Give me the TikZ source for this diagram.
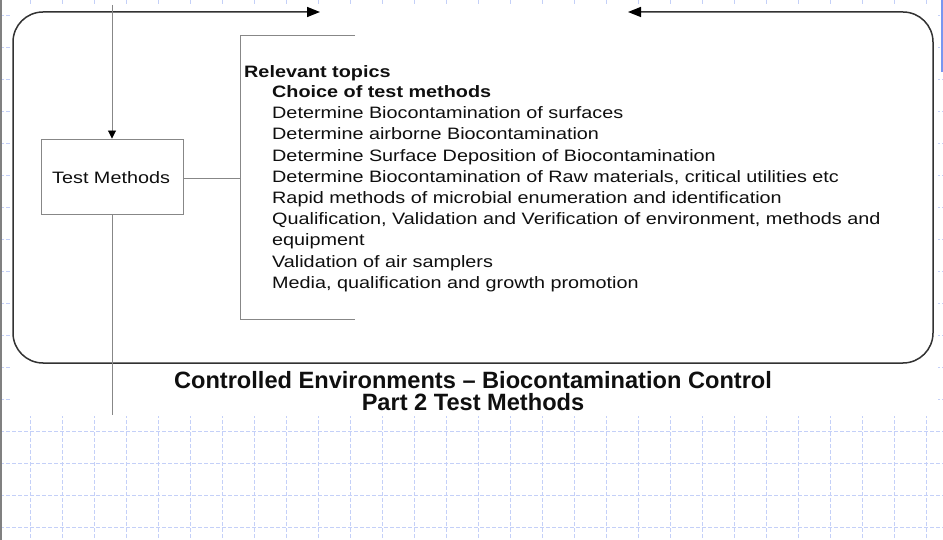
\documentclass[tikz,border=0pt]{standalone}
\usepackage{fontspec}
\setmainfont{Liberation Sans}
\newfontfamily\bodyf[FakeStretch=1.2]{Liberation Sans}
\usetikzlibrary{arrows.meta}
\definecolor{gridblue}{RGB}{196,208,248}
\definecolor{barblue}{RGB}{120,150,240}
\definecolor{framegray}{RGB}{50,50,50}
\definecolor{linegray}{RGB}{135,135,135}
\definecolor{inkc}{RGB}{15,15,15}
\tikzset{
  gridline/.style={draw=gridblue, line width=0.7pt, dash pattern=on 4pt off 2pt},
  frameline/.style={draw=framegray, line width=1.5pt, rounded corners=30pt},
  thinline/.style={draw=linegray, line width=0.9pt},
  boxnode/.style={draw=linegray, line width=0.9pt, minimum width=142pt, minimum height=75pt, inner sep=0pt},
  bodytext/.style={anchor=base west, inner sep=0pt, font=\bodyf\fontsize{16.5}{19}\selectfont, text=inkc},
  boldtext/.style={bodytext, font=\bodyf\bfseries\fontsize{16.5}{19}\selectfont},
  titletext/.style={anchor=base, inner sep=0pt, font=\bfseries\fontsize{23.6}{26}\selectfont, text=inkc}
}
\begin{document}
\begin{tikzpicture}[x=1pt,y=-1pt]
\useasboundingbox (0,0) rectangle (943,540);
\fill[white] (0,0) rectangle (943,540);
% grid
\foreach \x in {30,62,...,926} \draw[gridline] (\x,0) -- (\x,540);
\foreach \y in {15,47,...,527} \draw[gridline] (0,\y) -- (943,\y);
\fill[white] (12,6) rectangle (938,416);
% edge marks
\fill[barblue] (940.5,0) rectangle (943,72);
\draw[draw=gray, line width=1.6pt] (0.8,0) -- (0.8,540);

% frame with the two arrows on top
\coordinate (fa) at (628,12);
\coordinate (fb) at (320,12);
\draw[frameline, {Triangle[length=13pt,width=10pt,color=black]}-{Triangle[length=13pt,width=10pt,color=black]}]
  (fa) -- (933,12) -- (933,363) -- (13,363) -- (13,12) -- (fb);

% test methods box
\node[boxnode] (tm) at (112,176.5) {};
\node[bodytext] (tmt) at (52,184) {Test Methods};
\coordinate (top) at (112,5);
\coordinate (bot) at (112,415);
\draw[thinline, -{Triangle[length=8pt,width=8pt,color=black]}] (top) -- (tm.north);
\draw[thinline] (tm.south) -- (bot);

% bracket
\coordinate (bt) at (355,35);
\coordinate (bm) at (240,178);
\coordinate (bb) at (355,319);
\draw[thinline] (tm.east |- bm) -- (bm);
\draw[thinline] (bt) -- (240,35) -- (240,319) -- (bb);

% topics text
\node[boldtext] (l1) at (244,77.5) {Relevant topics};
\node[boldtext] (l2) at (272,98) {Choice of test methods};
\node[bodytext] (l3) at (272,119) {Determine Biocontamination of surfaces};
\node[bodytext] (l4) at (272,140) {Determine airborne Biocontamination};
\node[bodytext] (l5) at (272,161.2) {Determine Surface Deposition of Biocontamination};
\node[bodytext] (l6) at (272,182.4) {Determine Biocontamination of Raw materials, critical utilities etc};
\node[bodytext] (l7) at (272,203.6) {Rapid methods of microbial enumeration and identification};
\node[bodytext] (l8) at (272,224.8) {Qualification, Validation and Verification of environment, methods and};
\node[bodytext] (l9) at (272,246) {equipment};
\node[bodytext] (l10) at (272,267.2) {Validation of air samplers};
\node[bodytext] (l11) at (272,288.4) {Media, qualification and growth promotion};

% title
\node[titletext] (t1) at (473,388) {Controlled Environments – Biocontamination Control};
\node[titletext] (t2) at (473,410) {Part 2 Test Methods};
\end{tikzpicture}
\end{document}
